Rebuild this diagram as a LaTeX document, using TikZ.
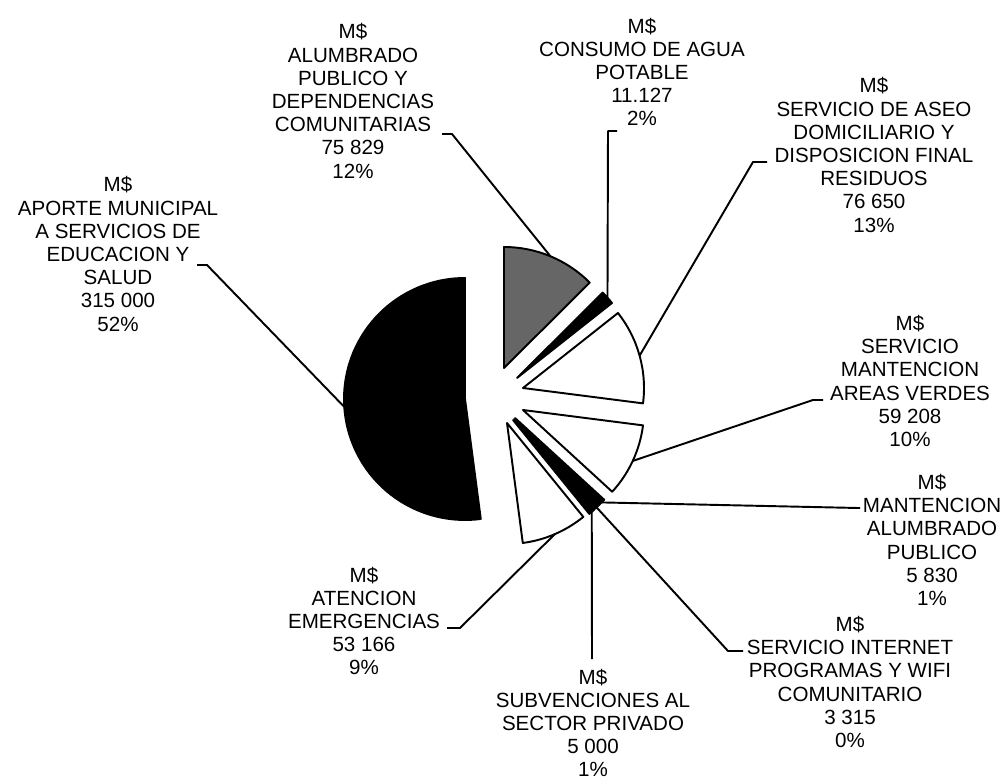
\documentclass[tikz,border=0pt]{standalone}
\usepackage{fontspec}
\setmainfont{Liberation Sans}
\newcommand{\pielabel}{\fontsize{11.7}{13.2}\selectfont}
\tikzset{
    slice/.style={draw=black, line width=1.1pt, line join=round},
    lbl/.style={align=center, font=\pielabel, inner sep=0pt},
    leader/.style={line width=1.1pt, line join=round}
}
\begin{document}
\begin{tikzpicture}[x=0.02cm,y=0.02cm]
    \useasboundingbox (0,0) rectangle (1004,-783);
    % exploded slices: name/apex x/apex y/start angle/end angle/fill
    \foreach \n/\x/\y/\a/\b/\c in {aporte/465/-399/90/277.5/black,alumbrado/504/-368/90/44.9/black!60,agua/517/-378/44.9/38.3/black,aseo/523/-388/38.3/-7.3/white,verdes/523/-410/-7.3/-42.5/white,mantencion/515/-418/-42.5/-46/black,internet/514/-419/-46/-47.9/black,subvencion/513/-420/-47.9/-50.9/black,atencion/507/-423/-50.9/-82.5/white}
    {
        \filldraw[slice,fill=\c] (\x,\y) -- ++(\a:121) arc[start angle=\a, end angle=\b, radius=121] -- cycle;
        \path (\x,\y) ++({(\a+\b)/2}:121) coordinate (\n);
    }

    % labels
    \node[lbl] (t-aporte) at (118,-254) {M\$\\APORTE MUNICIPAL\\A SERVICIOS DE\\EDUCACION Y\\SALUD\\315 000\\52\%};
    \node[lbl] (t-alumbrado) at (353,-101) {M\$\\ALUMBRADO\\PUBLICO Y\\DEPENDENCIAS\\COMUNITARIAS\\75 829\\12\%};
    \node[lbl] (t-agua) at (642,-72) {M\$\\CONSUMO DE AGUA\\POTABLE\\11.127\\2\%};
    \node[lbl] (t-aseo) at (874,-155) {M\$\\SERVICIO DE ASEO\\DOMICILIARIO Y\\DISPOSICION FINAL\\RESIDUOS\\76 650\\13\%};
    \node[lbl] (t-verdes) at (910,-381) {M\$\\SERVICIO\\MANTENCION\\AREAS VERDES\\59 208\\10\%};
    \node[lbl] (t-mantencion) at (932,-540) {M\$\\MANTENCION\\ALUMBRADO\\PUBLICO\\5 830\\1\%};
    \node[lbl] (t-internet) at (850,-682) {M\$\\SERVICIO INTERNET\\PROGRAMAS Y WIFI\\COMUNITARIO\\3 315\\0\%};
    \node[lbl] (t-subvencion) at (593,-723) {M\$\\SUBVENCIONES AL\\SECTOR PRIVADO\\5 000\\1\%};
    \node[lbl] (t-atencion) at (364,-621) {M\$\\ATENCION\\EMERGENCIAS\\53 166\\9\%};

    % leader lines: slice/hook x/hook y/hook length
    \foreach \n/\x/\y/\d in {aporte/197/-265/10,alumbrado/442/-134/10,agua/617/-131/-9,aseo/767/-162/-14,verdes/823/-400/-10,mantencion/860/-508/-2,internet/743/-651/-15,subvencion/592/-659/0,atencion/447/-628/13}
    {
        \coordinate (h-\n) at (\x,\y);
        \draw[leader] (h-\n) -- ++(\d,0) -- (\n);
    }
\end{tikzpicture}
\end{document}
